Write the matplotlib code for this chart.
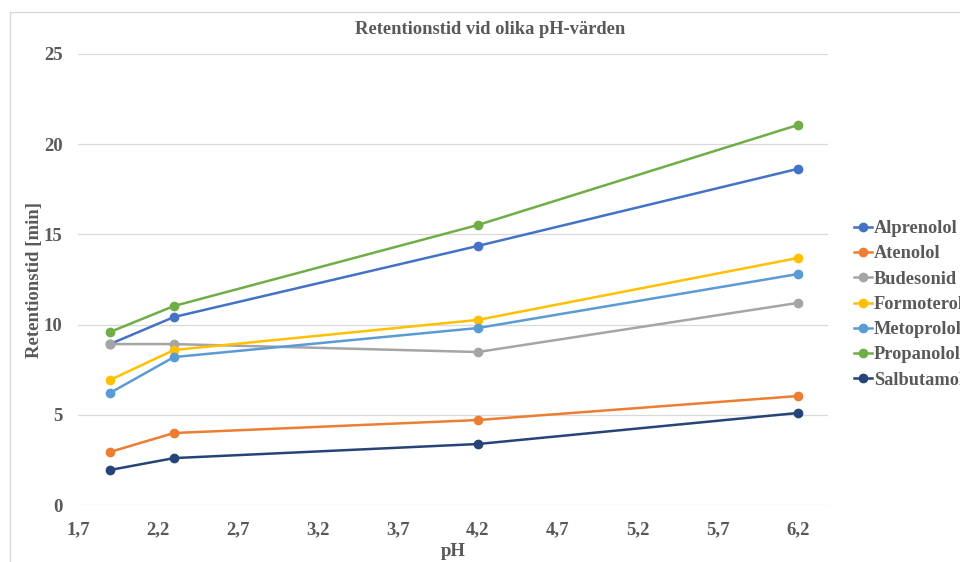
import matplotlib
matplotlib.use('Agg')
import matplotlib.pyplot as plt
from matplotlib.ticker import FuncFormatter, MultipleLocator
from matplotlib.patches import Rectangle

plt.rcParams['font.family'] = 'Liberation Serif'
plt.rcParams['font.weight'] = 'bold'

ph = [1.9, 2.3, 4.2, 6.2]
ph_ticks = [1.7, 2.2, 2.7, 3.2, 3.7, 4.2, 4.7, 5.2, 5.7, 6.2]

alprenolol = [8.92, 10.42, 14.36, 18.63]
atenolol = [2.94, 3.99, 4.71, 6.04]
budesonid = [8.92, 8.92, 8.48, 11.2]
formoterol = [6.93, 8.59, 10.26, 13.69]
metoprolol = [6.21, 8.2, 9.81, 12.8]
propanolol = [9.59, 11.03, 15.52, 21.06]
salbutamol = [1.94, 2.6, 3.38, 5.1]

names = ['Alprenolol', 'Atenolol', 'Budesonid', 'Formoterol',
         'Metoprolol', 'Propanolol', 'Salbutamol']
series = [alprenolol, atenolol, budesonid, formoterol,
          metoprolol, propanolol, salbutamol]
colors = ['#4472C4', '#ED7D31', '#A5A5A5', '#FFC000',
          '#5B9BD5', '#70AD47', '#264478']

text_color = '#595959'

fig = plt.figure(figsize=(9.6, 5.62), dpi=100)
ax = fig.add_axes([78/960, 1 - 505/562, 750/960, 451/562])

# light chart border
fig.patches.append(Rectangle((10/960, -0.05), 1.0, 1 - 12/562 + 0.05,
                             transform=fig.transFigure, fill=False,
                             edgecolor='#D9D9D9', linewidth=1))

for name, vals, c in zip(names, series, colors):
    ax.plot(ph, vals, color=c, lw=1.8, marker='o', markersize=6, label=name)

ax.set_xlim(1.7, 6.39)
ax.set_ylim(0, 25)
ax.set_xticks(ph_ticks)
ax.yaxis.set_major_locator(MultipleLocator(5))
ax.xaxis.set_major_formatter(FuncFormatter(lambda v, p: f'{v:.1f}'.replace('.', ',')))
ax.grid(axis='y', color='#D9D9D9', lw=0.9)
ax.set_axisbelow(True)
for s in ax.spines.values():
    s.set_visible(False)
ax.tick_params(length=0, labelsize=13.5, labelcolor=text_color)
ax.tick_params(axis='x', pad=12)
ax.tick_params(axis='y', pad=11)
for lbl in ax.get_xticklabels() + ax.get_yticklabels():
    lbl.set_fontweight('bold')

ax.set_xlabel('pH', fontsize=13.5, color=text_color, fontweight='bold', labelpad=3)
ax.set_ylabel('Retentionstid [min]', fontsize=13.5, color=text_color,
              fontweight='bold', labelpad=1)
fig.text(490/960, 1 - 29/562, 'Retentionstid vid olika pH-värden',
         ha='center', va='center', fontsize=13.3, color=text_color, fontweight='bold')

leg = fig.legend(loc='center left', bbox_to_anchor=(854/960, 1 - 304.5/562),
                 frameon=False, fontsize=13.2, handlelength=0.98, handletextpad=0.12,
                 labelspacing=0.45, borderpad=0, borderaxespad=0)
for t in leg.get_texts():
    t.set_color(text_color)

fig.savefig('out.png', dpi=100)
